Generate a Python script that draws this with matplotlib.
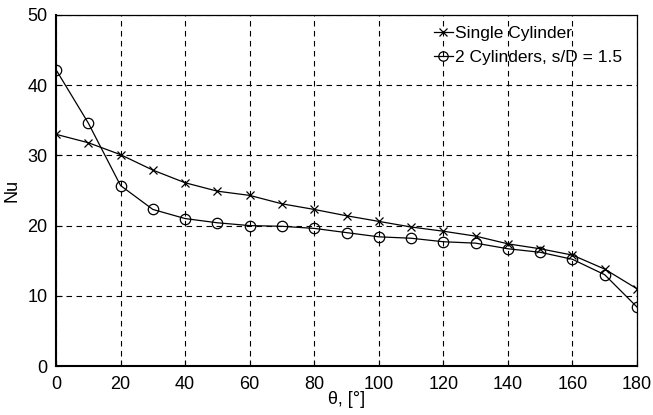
import matplotlib
matplotlib.use("Agg")
import matplotlib.pyplot as plt

theta = [0, 10, 20, 30, 40, 50, 60, 70, 80, 90, 100, 110, 120, 130, 140, 150, 160, 170, 180]
nu_single = [33.0, 31.8, 30.1, 27.9, 26.1, 24.9, 24.3, 23.1, 22.3, 21.4, 20.6, 19.8, 19.2, 18.5, 17.4, 16.7, 15.8, 13.8, 11.0]
nu_two = [42.2, 34.6, 25.7, 22.3, 21.0, 20.4, 20.0, 19.9, 19.6, 19.0, 18.4, 18.2, 17.7, 17.5, 16.7, 16.2, 15.2, 13.0, 8.4]
labels = ["Single Cylinder", "2 Cylinders, s/D = 1.5"]

plt.rcParams['font.family'] = ['Liberation Sans', 'DejaVu Sans']
fig = plt.figure(figsize=(6.53, 4.15), dpi=100)
ax = fig.add_axes([0.0858, 0.118, 0.8897, 0.846])
ax.plot(theta, nu_single, color='black', lw=0.9, marker='x', ms=6, mew=0.9, label=labels[0])
ax.plot(theta, nu_two, color='black', lw=0.9, marker='o', ms=7.5, mfc='none', mew=0.9, label=labels[1])
ax.set_xlim(0, 180)
ax.set_ylim(0, 50)
ax.set_xticks(range(0, 181, 20))
ax.set_yticks(range(0, 51, 10))
ax.grid(True, linestyle=(0, (5, 4)), color='black', lw=0.8)
ax.tick_params(direction='in', labelsize=13, length=4)
ax.tick_params(axis='x', pad=7)
ax.tick_params(axis='y', pad=6)
for s in ['left', 'bottom']:
    ax.spines[s].set_linewidth(1.5)
for s in ['top', 'right']:
    ax.spines[s].set_linewidth(0.9)
ax.set_xlabel('θ, [°]', fontsize=13, labelpad=-1)
ax.set_ylabel('Nu', fontsize=13, labelpad=5)
ax.legend(loc='upper right', frameon=False, fontsize=12.5, handlelength=1.1, handletextpad=0.15,
          labelspacing=0.5, borderpad=0, borderaxespad=0, markerscale=0.9,
          bbox_to_anchor=(0.975, 0.968))
fig.savefig('out.png', dpi=100)
